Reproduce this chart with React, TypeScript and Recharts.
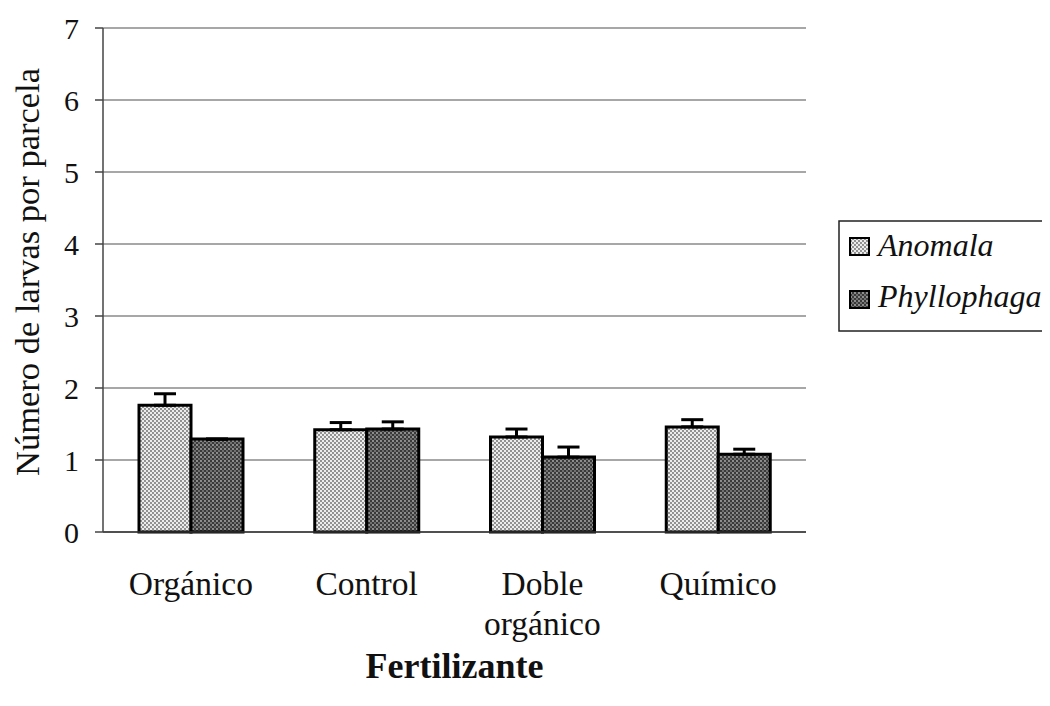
import React from 'react';
import { BarChart, Bar, XAxis, YAxis, CartesianGrid, ErrorBar, ReferenceLine } from 'recharts';

const categories = ['Orgánico', 'Control', 'Doble\norgánico', 'Químico'];
const seriesNames = ['Anomala', 'Phyllophaga'];
const anomala = [1.76, 1.42, 1.32, 1.46];
const anomalaErr = [0.16, 0.1, 0.11, 0.1];
const phyllophaga = [1.29, 1.43, 1.04, 1.08];
const phyllophagaErr = [0, 0.1, 0.14, 0.07];
const yTicks = [0, 1, 2, 3, 4, 5, 6, 7];
const boundaryTicks = [0, 1, 2, 3, 4];
const yTitle = 'Número de larvas por parcela';
const xTitle = 'Fertilizante';

const data = categories.map((c, i) => ({
  cat: c,
  anomala: anomala[i],
  anomalaErr: [0, anomalaErr[i]],
  phyllophaga: phyllophaga[i],
  phyllophagaErr: [0, phyllophagaErr[i]],
}));

const FONT = '"Liberation Serif", "Times New Roman", serif';

const CatTick = (props: any) => {
  const { x, y, payload } = props;
  const lines = String(payload.value).split('\n');
  return (
    <text x={x} y={y} textAnchor="middle" fontFamily={FONT} fontSize={33.5} fill="#111">
      {lines.map((l, i) => (
        <tspan key={i} x={x} dy={i === 0 ? 63 : 40}>
          {l}
        </tspan>
      ))}
    </text>
  );
};

const Patterns = ({ suffix }: { suffix: string }) => (
  <defs>
    <pattern id={`patA${suffix}`} width="4" height="4" patternUnits="userSpaceOnUse">
      <rect width="4" height="4" fill="#ececec" />
      <circle cx="1" cy="1" r="0.9" fill="#666" />
      <circle cx="3" cy="3" r="0.9" fill="#666" />
    </pattern>
    <pattern id={`patP${suffix}`} width="4" height="4" patternUnits="userSpaceOnUse">
      <rect width="4" height="4" fill="#3a3a3a" />
      <circle cx="1" cy="1" r="0.9" fill="#b5b5b5" />
      <circle cx="3" cy="3" r="0.9" fill="#8a8a8a" />
    </pattern>
  </defs>
);

const LegendBox = () => (
  <svg width={208} height={112} style={{ position: 'absolute', left: 830, top: 212 }}>
    <Patterns suffix="L" />
    <rect x={1} y={1} width={206} height={110} fill="#fff" stroke="#222" strokeWidth={1.5} />
    {seriesNames.map((n, i) => (
      <g key={n}>
        <rect
          x={12}
          y={18 + i * 53}
          width={19}
          height={17}
          fill={i === 0 ? 'url(#patAL)' : 'url(#patPL)'}
          stroke="#000"
          strokeWidth={2}
        />
        <text x={40} y={36 + i * 51} fontFamily={FONT} fontStyle="italic" fontSize={32} fill="#111">
          {n}
        </text>
      </g>
    ))}
  </svg>
);

export default function App() {
  return (
    <div style={{ position: 'relative', width: 1042, height: 690 }}>
      <BarChart
        width={1042}
        height={690}
        data={data}
        margin={{ top: 20, right: 244, left: 0, bottom: 0 }}
        barGap={0}
      >
        <Patterns suffix="" />
        <CartesianGrid horizontal vertical={false} stroke="#8a8a8a" strokeWidth={1.5} />
        <XAxis
          xAxisId="b"
          type="number"
          domain={[0, 4]}
          ticks={boundaryTicks}
          tick={false}
          tickSize={10}
          axisLine={false}
          tickLine={{ stroke: '#444', strokeWidth: 1.5 }}
          height={0}
        />
        <XAxis
          xAxisId="cat"
          dataKey="cat"
          height={166}
          tickLine={false}
          tickSize={0}
          tickMargin={0}
          axisLine={{ stroke: '#333', strokeWidth: 1.5 }}
          tick={<CatTick />}
          interval={0}
          label={{
            content: (p: any) => {
              const vb = p.viewBox;
              return (
                <text
                  x={vb.x + vb.width / 2}
                  y={vb.y + 146}
                  textAnchor="middle"
                  fontFamily={FONT}
                  fontWeight="bold"
                  fontSize={36}
                  fill="#111"
                >
                  {xTitle}
                </text>
              );
            },
          }}
        />
        <YAxis
          domain={[0, 7]}
          ticks={yTicks}
          width={95}
          tickSize={8}
          tickMargin={16}
          axisLine={{ stroke: '#444', strokeWidth: 1.5 }}
          tickLine={{ stroke: '#444', strokeWidth: 1.5 }}
          tick={{ fontFamily: FONT, fontSize: 30, fill: '#111' }}
          label={{
            content: (p: any) => {
              const vb = p.viewBox;
              const cx = 31;
              const cy = vb.y + vb.height / 2 - 8;
              return (
                <text
                  x={cx}
                  y={cy}
                  transform={`rotate(-90 ${cx} ${cy})`}
                  textAnchor="middle"
                  fontFamily={FONT}
                  fontSize={34.5}
                  fill="#111"
                >
                  {yTitle}
                </text>
              );
            },
          }}
        />
        <ReferenceLine xAxisId="b" x={4} stroke="#777" strokeWidth={1.5} />
        <Bar
          xAxisId="cat"
          dataKey="anomala"
          name={seriesNames[0]}
          fill="url(#patA)"
          stroke="#000"
          strokeWidth={3}
          barSize={52}
          isAnimationActive={false}
        >
          <ErrorBar dataKey="anomalaErr" width={11} strokeWidth={3} stroke="#000" direction="y" />
        </Bar>
        <Bar
          xAxisId="cat"
          dataKey="phyllophaga"
          name={seriesNames[1]}
          fill="url(#patP)"
          stroke="#000"
          strokeWidth={3}
          barSize={52}
          isAnimationActive={false}
        >
          <ErrorBar dataKey="phyllophagaErr" width={11} strokeWidth={3} stroke="#000" direction="y" />
        </Bar>
      </BarChart>
      <LegendBox />
    </div>
  );
}
